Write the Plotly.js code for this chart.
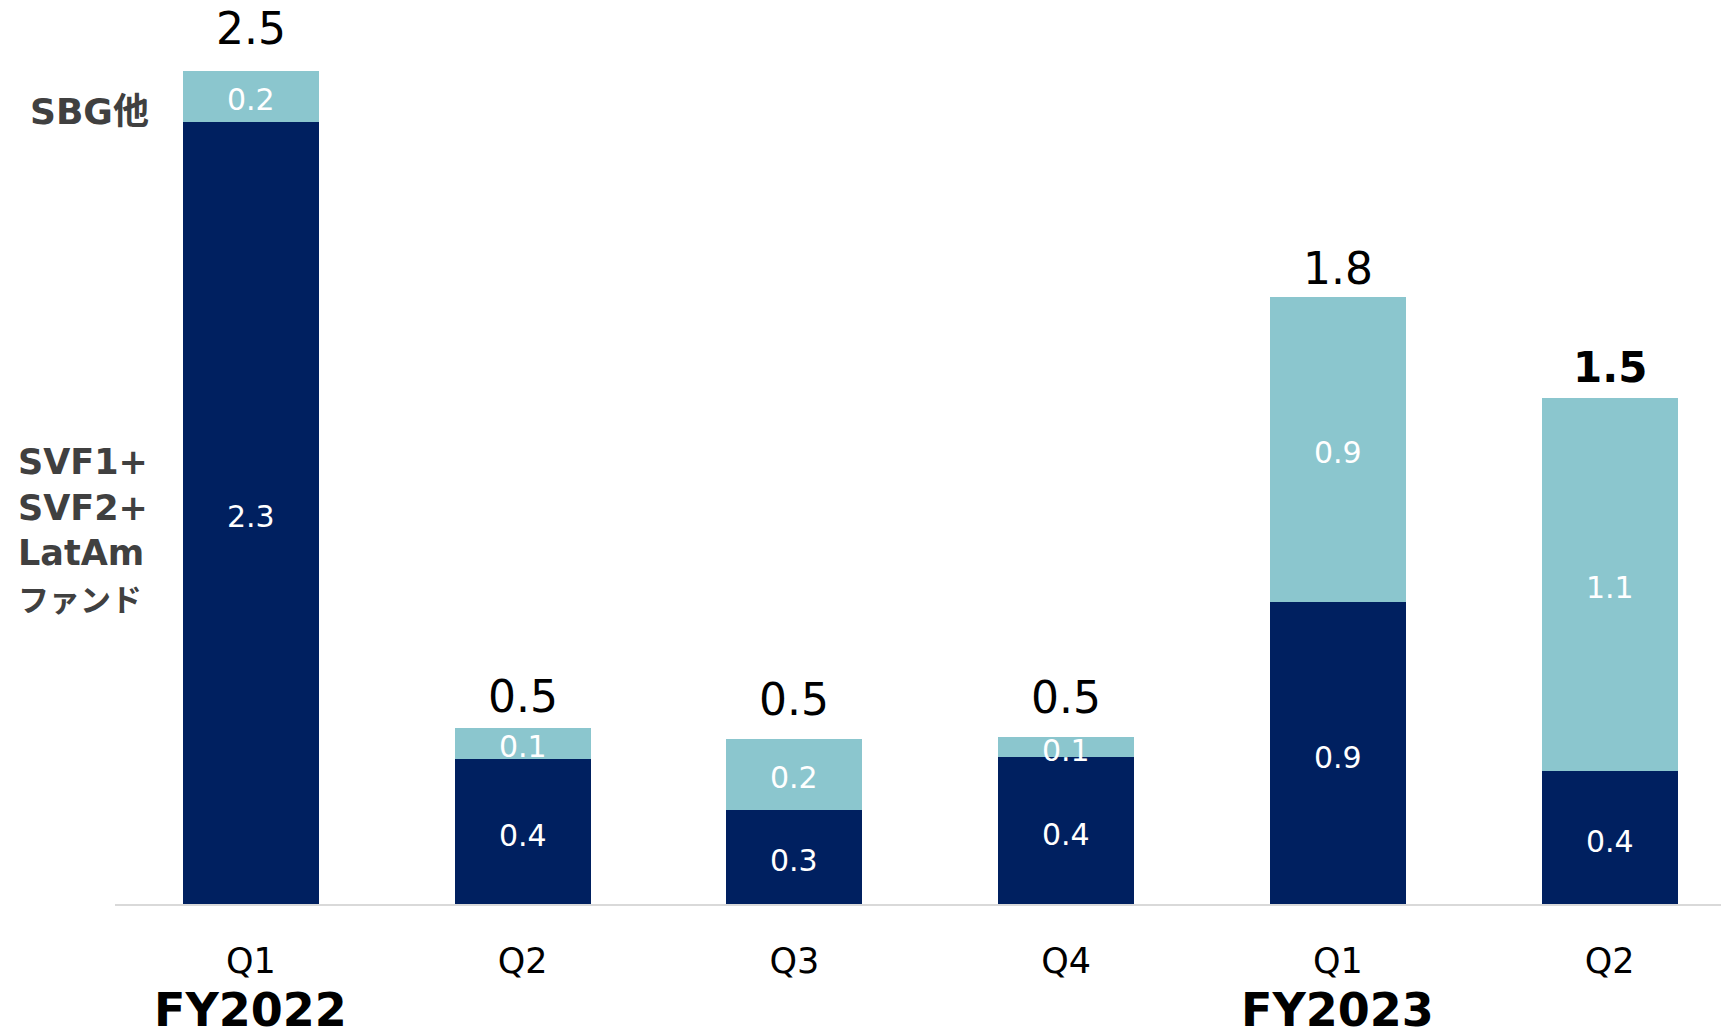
<!DOCTYPE html>
<html>
<head>
<meta charset="utf-8">
<script src="https://cdn.plot.ly/plotly-3.0.1.min.js"></script>
<style>
  html, body { margin: 0; padding: 0; background: #ffffff; }
  #chart { width: 1721px; height: 1036px; }
</style>
</head>
<body>
<div id="chart"></div>
<script>
// ---- Data ----
const quarters = ['Q1', 'Q2', 'Q3', 'Q4', 'Q1', 'Q2'];
const fiscalYears = ['FY2022', 'FY2023'];
const fiscalYearStart = [0, 4];           // index of the first quarter of each fiscal year
const fundNameLines = ['SVF1+', 'SVF2+', 'LatAm', 'ファンド'];
const sbgName = 'SBG他';
const fundValues = [2.347, 0.436, 0.283, 0.440, 0.905, 0.400];
const sbgValues  = [0.153, 0.092, 0.213, 0.060, 0.916, 1.119];
const fundLabels = ['2.3', '0.4', '0.3', '0.4', '0.9', '0.4'];
const sbgLabels  = ['0.2', '0.1', '0.2', '0.1', '0.9', '1.1'];
const totalLabels = ['2.5', '0.5', '0.5', '0.5', '1.8', '1.5'];

// ---- Styles ----
const FONT = 'DejaVu Sans, Noto Sans CJK JP, sans-serif';
const DARK = '#002060';
const LIGHT = '#8BC6CE';
const totalShift = [15, 4, 12, 12, 1, 4];   // label offsets above bar tops (px)
const xs = quarters.map((_, i) => i);

const traces = [
  {
    type: 'bar', name: 'fund', x: xs, y: fundValues,
    marker: { color: DARK, line: { width: 0 } },
    hoverinfo: 'skip'
  },
  {
    type: 'bar', name: 'sbg', x: xs, y: sbgValues,
    marker: { color: LIGHT, line: { width: 0 } },
    hoverinfo: 'skip'
  }
];

const annotations = [];
xs.forEach(i => {
  // segment labels
  annotations.push({
    x: i, y: fundValues[i] / 2, xref: 'x', yref: 'y', yshift: -4,
    text: fundLabels[i], showarrow: false, xanchor: 'center', yanchor: 'middle',
    font: { family: FONT, size: 30, color: '#ffffff' }
  });
  annotations.push({
    x: i, y: fundValues[i] + sbgValues[i] / 2, xref: 'x', yref: 'y', yshift: -3,
    text: sbgLabels[i], showarrow: false, xanchor: 'center', yanchor: 'middle',
    font: { family: FONT, size: 30, color: '#ffffff' }
  });
  // totals
  const last = i === xs.length - 1;
  annotations.push({
    x: i, y: fundValues[i] + sbgValues[i], xref: 'x', yref: 'y',
    text: last ? '<b>' + totalLabels[i] + '</b>' : totalLabels[i],
    showarrow: false, xanchor: 'center', yanchor: 'bottom',
    yshift: totalShift[i],
    font: { family: FONT, size: last ? 42 : 44, color: '#000000' }
  });
});

// fiscal year labels
fiscalYears.forEach((fy, k) => {
  annotations.push({
    x: fiscalYearStart[k], y: -0.117, xref: 'x', yref: 'paper',
    text: '<b>' + fy + '</b>', showarrow: false, xanchor: 'center', yanchor: 'middle',
    font: { family: FONT, size: 46, color: '#000000' }
  });
});

// series names on the left
const plotLeft = 115, plotWidth = 1721 - 115;
annotations.push({
  x: (28 - plotLeft) / plotWidth, y: 0.877, xref: 'paper', yref: 'paper',
  text: '<b>' + sbgName + '</b>', showarrow: false, xanchor: 'left', yanchor: 'middle',
  font: { family: FONT, size: 36, color: '#404040' }
});
const fundNameHtml = fundNameLines.slice(0, 3).map(s => '<b>' + s + '</b>').join('<br>') +
  '<br><span style="font-size:31px"><b>' + fundNameLines[3] + '</b></span>';
annotations.push({
  x: (16 - plotLeft) / plotWidth, y: 0.414, xref: 'paper', yref: 'paper',
  text: fundNameHtml, showarrow: false, xanchor: 'left', yanchor: 'middle', align: 'left',
  font: { family: FONT, size: 35, color: '#404040' }
});

const layout = {
  width: 1721, height: 1036,
  margin: { l: plotLeft, r: 0, t: 0, b: 131.5, pad: 0 },
  paper_bgcolor: '#ffffff', plot_bgcolor: '#ffffff',
  barmode: 'stack', bargap: 0.5,
  showlegend: false,
  font: { family: FONT },
  xaxis: {
    range: [-0.5, -0.5 + plotWidth / 271.76],
    tickmode: 'array', tickvals: xs, ticktext: quarters,
    ticks: 'outside', ticklen: 25, tickcolor: 'rgba(0,0,0,0)',
    tickfont: { family: FONT, size: 35, color: '#000000' },
    showline: true, linecolor: '#d9d9d9', linewidth: 2,
    showgrid: false, zeroline: false, fixedrange: true, automargin: false
  },
  yaxis: {
    range: [0, 904.5 / 333.4],
    visible: false, showgrid: false, zeroline: false, fixedrange: true
  },
  annotations: annotations
};

Plotly.newPlot('chart', traces, layout, { displayModeBar: false, staticPlot: true });
</script>
</body>
</html>
